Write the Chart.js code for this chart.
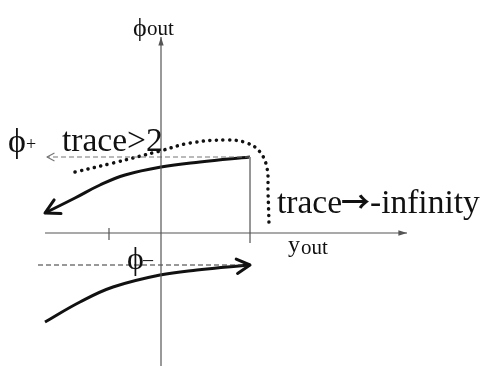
<!DOCTYPE html>
<html>
<head>
<meta charset="utf-8">
<script src="https://cdn.jsdelivr.net/npm/chart.js@4/dist/chart.umd.min.js"></script>
<style>
  body { margin: 0; background: #fff; }
  #wrap { width: 487px; height: 366px; }
</style>
</head>
<body>
<div id="wrap"><canvas id="myChart"></canvas></div>
<script>
'use strict'
// phase plane (y_out, phi_out), one unit = 10px
let upperX = [8.9, 3.9, 0, -3.6, -6.1, -8.6, -11.6];
let upperY = [7.6, 7.1, 6.6, 5.8, 4.8, 3.5, 2.0];
let lowerX = [-11.6, -8.1, -4.8, -0.1, 3.6, 8.9];
let lowerY = [-8.9, -6.9, -5.4, -4.2, -3.7, -3.2];
let dottedX = [-8.6, -4.8, -0.1, 2.9, 6.6, 8.6, 9.9, 10.6, 10.7, 10.8];
let dottedY = [6.1, 7.0, 8.2, 9.0, 9.3, 9.0, 8.1, 6.5, 4.1, 1.0];
let phiPlus = 7.6;
let phiMinus = -3.2;
let yEdge = 8.9;
let tickX = -5.2;
let axisXRange = [-11.6, 24.6];
let axisYRange = [-13.3, 19.6];

let serif = '"Liberation Serif", "DejaVu Serif", serif';
// text: [label, x, y, font]
let labels = [
    ['\u03d5', -2.8, 19.7, '26px ' + serif],
    ['out', -1.4, 19.8, '21px ' + serif],
    ['\u03d5', -15.3, 8.1, '34px ' + serif],
    ['+', -13.5, 8.3, '18px ' + serif],
    ['trace>2', -9.9, 8.2, '33.5px ' + serif],
    ['trace', 11.6, 2.0, '33.5px ' + serif],
    ['\u2192', 18.0, 2.0, 'bold 29px "Noto Sans CJK JP", "DejaVu Sans", sans-serif'],
    ['-infinity', 20.9, 2.0, '33.5px ' + serif],
    ['y', 12.7, -1.9, '24px ' + serif],
    ['out', 14.0, -2.1, '21px ' + serif],
    ['\u03d5', -3.4, -3.6, '32px ' + serif],
    ['\u2013', -1.8, -3.3, '20px ' + serif]
];

function pts(xs, ys) {
    let out = [];
    for (let i = 0; i < xs.length; i++) {
        out.push({ x: xs[i], y: ys[i] });
    }
    return out;
}

let arrowPlugin = {
    id: 'arrows',
    afterDatasetsDraw(chart) {
        let ctx = chart.ctx;
        chart.data.datasets.forEach(function (ds, i) {
            if (!ds.arrow) return;
            let p = chart.getDatasetMeta(i).data;
            let a = p[p.length - 2], b = p[p.length - 1];
            let ang = Math.atan2(b.y - a.y, b.x - a.x);
            let len = ds.arrowSize, spread = ds.arrowSpread;
            ctx.save();
            ctx.strokeStyle = ds.borderColor;
            ctx.fillStyle = ds.borderColor;
            ctx.lineWidth = ds.borderWidth;
            ctx.setLineDash([]);
            ctx.lineCap = 'round';
            ctx.lineJoin = 'round';
            ctx.beginPath();
            ctx.moveTo(b.x - len * Math.cos(ang - spread), b.y - len * Math.sin(ang - spread));
            ctx.lineTo(b.x, b.y);
            ctx.lineTo(b.x - len * Math.cos(ang + spread), b.y - len * Math.sin(ang + spread));
            if (ds.arrow === 'filled') {
                ctx.closePath();
                ctx.fill();
            } else {
                ctx.stroke();
            }
            ctx.restore();
        });
    }
};

let labelPlugin = {
    id: 'labels',
    afterDraw(chart) {
        let ctx = chart.ctx;
        let xs = chart.scales.x, ys = chart.scales.y;
        ctx.save();
        ctx.fillStyle = '#111';
        ctx.textBaseline = 'alphabetic';
        labels.forEach(function (l) {
            ctx.font = l[3];
            ctx.fillText(l[0], xs.getPixelForValue(l[1]), ys.getPixelForValue(l[2]));
        });
        ctx.restore();
    }
};

let ctx = document.getElementById('myChart').getContext('2d');
let myChart = new Chart(ctx, {
    type: 'scatter',
    data: {
        datasets: [{
            // phi_out axis
            data: pts([0, 0], axisYRange),
            borderColor: '#555',
            borderWidth: 1.2,
            arrow: 'filled', arrowSize: 9, arrowSpread: 0.3
        }, {
            // y_out axis
            data: pts(axisXRange, [0, 0]),
            borderColor: '#555',
            borderWidth: 1.2,
            arrow: 'filled', arrowSize: 9, arrowSpread: 0.3
        }, {
            data: pts([tickX, tickX], [0.5, -0.7]),
            borderColor: '#555',
            borderWidth: 1.2
        }, {
            data: pts([yEdge, yEdge], [phiPlus, -1.0]),
            borderColor: '#888',
            borderWidth: 1
        }, {
            // phi+ level
            data: pts([yEdge, -11.4], [phiPlus, phiPlus]),
            borderColor: '#777',
            borderWidth: 1.2,
            borderDash: [5, 3],
            arrow: 'open', arrowSize: 8, arrowSpread: 0.5
        }, {
            // phi- level
            data: pts([-12.3, yEdge], [phiMinus, phiMinus]),
            borderColor: '#333',
            borderWidth: 1.2,
            borderDash: [5, 3]
        }, {
            data: pts(dottedX, dottedY),
            borderColor: '#111',
            borderWidth: 3.5,
            borderDash: [0.1, 6.5],
            borderCapStyle: 'round',
            tension: 0.4
        }, {
            data: pts(upperX, upperY),
            borderColor: '#111',
            borderWidth: 3,
            tension: 0.4,
            arrow: 'open', arrowSize: 16, arrowSpread: 0.5
        }, {
            data: pts(lowerX, lowerY),
            borderColor: '#111',
            borderWidth: 3,
            tension: 0.4,
            arrow: 'open', arrowSize: 15, arrowSpread: 0.5
        }]
    },
    options: {
        responsive: true,
        maintainAspectRatio: false,
        animation: false,
        showLine: true,
        layout: { padding: 0 },
        elements: { point: { radius: 0, hoverRadius: 0 } },
        plugins: {
            legend: { display: false },
            tooltip: { enabled: false }
        },
        scales: {
            x: { type: 'linear', display: false, min: -16.1, max: 32.6 },
            y: { type: 'linear', display: false, min: -13.3, max: 23.3 }
        }
    },
    plugins: [arrowPlugin, labelPlugin]
});
</script>
</body>
</html>
